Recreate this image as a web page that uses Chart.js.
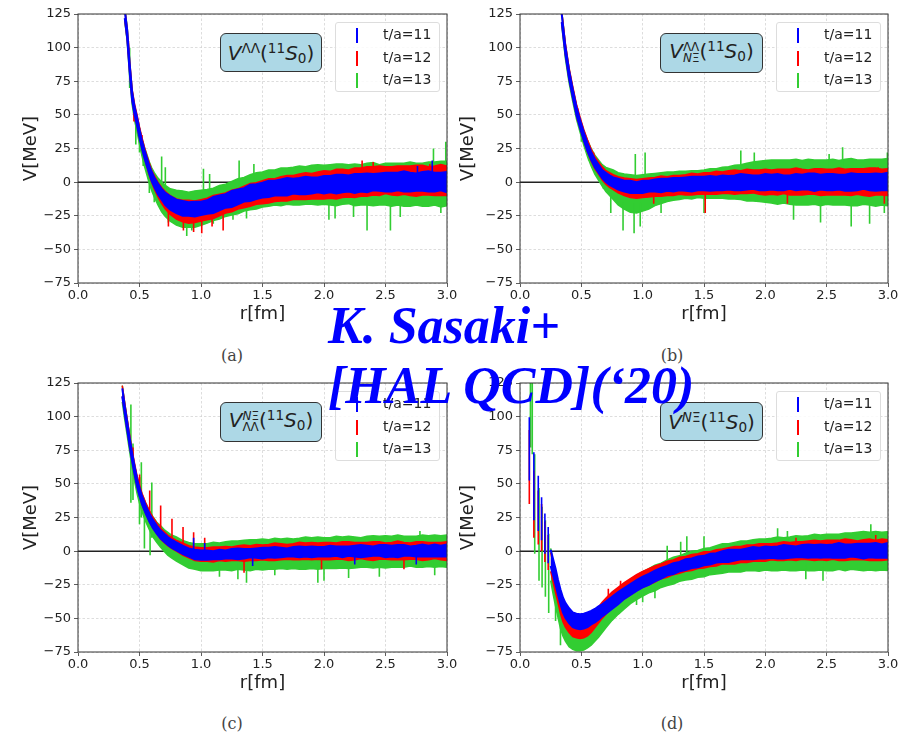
<!DOCTYPE html>
<html>
<head>
<meta charset="utf-8">
<script src="https://cdn.jsdelivr.net/npm/chart.js@4.4.1/dist/chart.umd.min.js"></script>
<style>
body { margin:0; background:#fff; width:908px; height:738px; position:relative; overflow:hidden; font-family:'DejaVu Sans', sans-serif; }
canvas { position:absolute; }
.lbl { position:absolute; box-sizing:border-box; background:#add8e6; border:1.5px solid #333; border-radius:6px; font-size:20px; color:#222; display:flex; align-items:center; justify-content:center; white-space:nowrap; }
.lbl > span { display:inline-block; line-height:1; }
.lbl sup, .lbl sub { font-size:0.68em; line-height:0; }
.lbl sup { vertical-align:0.55em; }
.lbl sub { vertical-align:-0.2em; }
.ss { display:inline-flex; flex-direction:column; font-size:0.6em; line-height:0.95; vertical-align:0.6em; }
.leg { position:absolute; box-sizing:border-box; width:105px; height:70px; border:1px solid #ddd; border-radius:3px; background:rgba(255,255,255,0.85); }
.leg div { position:absolute; left:0; height:22px; width:100%; font-size:14px; color:#222; }
.leg b { position:absolute; left:20px; top:4px; width:1.6px; height:15px; }
.leg span { position:absolute; left:47px; top:2px; }
.cap { position:absolute; font-family:'DejaVu Serif', serif; font-size:16px; color:#444; transform:translateX(-50%); }
.big { position:absolute; left:328px; top:296px; font-family:'Liberation Serif', serif; font-weight:bold; font-style:italic; font-size:52px; line-height:60px; color:#0000ff; white-space:nowrap; z-index:10; }
</style>
</head>
<body>
<canvas id="cA" width="470" height="340" style="left:0;top:0"></canvas>
<canvas id="cB" width="466" height="340" style="left:442px;top:0"></canvas>
<canvas id="cC" width="470" height="340" style="left:0;top:369px"></canvas>
<canvas id="cD" width="466" height="340" style="left:442px;top:369px"></canvas>

<div class="lbl" style="left:220px;top:33px;width:102px;height:39px"><span><i>V</i><sup>ΛΛ</sup>(<sup>11</sup><i>S</i><sub>0</sub>)</span></div>
<div class="lbl" style="left:660px;top:33px;width:103px;height:40px"><span><i>V</i><span class="ss"><span>ΛΛ</span><span><i>N</i>Ξ</span></span>(<sup>11</sup><i>S</i><sub>0</sub>)</span></div>
<div class="lbl" style="left:220px;top:402px;width:102px;height:40px"><span><i>V</i><span class="ss"><span><i>N</i>Ξ</span><span>ΛΛ</span></span>(<sup>11</sup><i>S</i><sub>0</sub>)</span></div>
<div class="lbl" style="left:660px;top:402px;width:103px;height:39px"><span><i>V</i><sup><i>N</i>Ξ</sup>(<sup>11</sup><i>S</i><sub>0</sub>)</span></div>

<div class="leg" style="left:335px;top:22px"></div>
<div class="leg" style="left:776px;top:22px"></div>
<div class="leg" style="left:335px;top:391px"></div>
<div class="leg" style="left:776px;top:391px"></div>

<div class="cap" style="left:232px;top:346px">(a)</div>
<div class="cap" style="left:672px;top:346px">(b)</div>
<div class="cap" style="left:232px;top:714px">(c)</div>
<div class="cap" style="left:672px;top:714px">(d)</div>

<div class="big">K. Sasaki+<br>[HAL QCD](‘20)</div>

<script>
const BLUE = '#0000ff'
const RED = '#ff0000'
const GREEN = '#32cd32'

const seriesNames = ['t/a=11', 't/a=12', 't/a=13']
const xTicks = [0, 0.5, 1.0, 1.5, 2.0, 2.5, 3.0]
const yTicks = [-75, -50, -25, 0, 25, 50, 75, 100, 125]

// r values shared by all panels beyond 1 fm
const rTail = [1.05,1.10,1.15,1.20,1.25,1.30,1.35,1.40,1.45,1.50,1.55,1.60,1.65,1.70,1.75,1.80,1.85,1.90,1.95,2.00,
    2.05,2.10,2.15,2.20,2.25,2.30,2.35,2.40,2.45,2.50,2.55,2.60,2.65,2.70,2.75,2.80,2.85,2.90,2.95,3.00]

// (a) V^{ΛΛ}
const rA = [0.38,0.40,0.42,0.44,0.46,0.48,0.50,0.52,0.54,0.56,0.58,0.60,0.62,0.65,0.68,0.71,0.75,0.80,0.85,0.90,0.95,1.00, ...rTail]
const aBlueV = [125,110,85,64,53,45,36,28,21,15,9,4,0, -5,-9,-12.5, -15.5,-18,-19.5,-20,-20,-19.5,
    -18.5,-17,-15.5,-14,-12.5,-11,-9.5,-8,-7,-6, -5,-4.5,-4,-3.5,-3,-3,-2.5,-2.5,-2,-2,
    -1.5,-1.5,-1,-1,-1,-0.5,-0.5,0,0,0, 0,0.5,0.5,0,0,0.5,0.5,0,0.5,0]
const aBlueE = [3,3,3,3,3,3,3,3,3,3,3,3.5,3.5, 4,4,4.5, 5,5,5.5,5,5.5,5,
    5,6,5.5,5,6,5.5,5,6,5.5,5.5, 6,5.5,6,6.5,5.5,6,6.5,6,5.5,6.5,
    6,7,6.5,6,7,6.5,7,6,6.5,7, 7,6.5,7.5,7,6.5,7,7.5,7,6.5,7.5]
const aRedV = [125,110,86,65,54,46,37,29,22,15.5,9.5,4,0, -5.5,-10,-13.5, -17,-20,-21.5,-22,-22,-21,
    -20,-18.5,-17,-15.5,-14,-12.5,-11,-9.5,-8.5,-7.5, -6.5,-6,-5,-4.5,-4,-3.5,-3,-3,-2.5,-2,
    -2,-1.5,-1,-1,-0.5,0,0.5,1,1,1.5, 1,1,1.5,1,1,1.5,1,1,1.5,1]
const aRedE = [4,4,4,4,4,4,4,4,4,4,4.5,4.5,5, 5.5,6,6.5, 7,7.5,8,8.5,8,8,
    8,8.5,8,7.5,8,7.5,8,8.5,8,8.5, 9,8.5,9,9.5,9,9.5,10,9.5,10,10.5,
    10,11,10.5,10,11,10.5,11,10.5,11,10, 10.5,11,10.5,11,11.5,11,10.5,11,11.5,11]
const aGreenV = [125,110,84,63,51,43,34,26,19,13,7,2,-2, -7,-11,-14, -17,-19,-20,-20.5,-20,-19,
    -18,-16.5,-15,-13.5,-12,-10.5,-9,-7.5,-6.5,-5.5, -4.5,-4,-3.5,-3,-3,-2.5,-2.5,-2,-2,-2,
    -2,-2,-1.5,-1.5,-2,-2,-1.5,-1.5,-2,-1.5, -2,-1.5,-2,-1.5,-1.5,-2,-1.5,-1,-1.5,-1]
const aGreenE = [5,5,5,5,5,5.5,6,6.5,7,7.5,8,8.5,9, 10,11,11.5, 12,13,13.5,13,13.5,13,
    12.5,12,12.5,12,12.5,13,12.5,13,13.5,13, 13.5,13,14,13.5,14,14.5,14,14.5,15,14.5,
    15,15.5,15,14.5,15.5,15,15.5,16,15,15.5, 16,15.5,16,16.5,15.5,16,16.5,16,17,16.5]
// single large error bars: [r, low, high]
const aSpikesGreen = [[0.42,70,100],[0.47,28,52],[0.50,22,40],[0.53,12,30],[0.58,-8,14],[0.62,-15,6],
    [0.68,-5,19],[0.71,-8,11],[0.735,-30,-10],[0.884,-40,-20],[0.925,-36,-20],[1.02,-10,10],
    [1.07,-10,6],[1.10,-31,-15],[1.26,-28,-10],[1.31,-8,16],[1.37,-27,-8],[1.43,-5,13.5],[2.04,-28,-5],
    [2.09,-27,-5],[2.24,-26,-5],[2.35,-36,-5],[2.54,-36,-5],[2.62,-26,-5],[2.89,5,25],[2.95,-23,-5],[2.99,5,30]]
const aSpikesRed = [[0.41,95,105],[0.455,45,56],[0.52,25,35],[0.735,-33,-15],[0.857,-36,-18],[0.94,-37,-18],
    [1.006,-38,-18],[1.09,-33,-15],[1.18,-36,-15],[2.31,5,16],[2.40,5,15],[2.86,5,13.5]]
const aSpikesBlue = [[2.76,4,12],[2.88,5,16]]

// (b) V^{ΛΛ}_{NΞ}
const rB = [0.34,0.37,0.40,0.43,0.46,0.49,0.52,0.55,0.58,0.61,0.64,0.67,0.70,0.73,0.76,0.80,0.85,0.90,0.95,1.00, ...rTail]
const bBlueV = [122,98,80,66,53,43,34,26,19.5,14,10,6,3.5,1.5,0, -1.5,-3,-3.5,-4,-3.5,
    -3,-2.5,-2.5,-2,-2,-1.5,-1.5,-1.5,-1,-1, -1,-1,-0.5,-0.5,-0.5,0,0,0,-0.5,0,
    0,0,-0.5,0,0,0,0.5,0,0,0, 0,0,-0.5,0,0,0.5,0,0,0,0.5]
const bBlueE = [3,3,3,3,3,3,3,3,3,3,3,3,3.5,3.5,3.5, 4,4,4.5,4,4.5,
    4,4.5,5,4.5,5,4.5,5,5.5,5,5, 5.5,5,5.5,5,5.5,6,5.5,5,5.5,6,
    5.5,6,5.5,5,6,5.5,6,6.5,5.5,6, 6,5.5,6,6.5,6,5.5,6,6.5,6,6.5]
const bRedV = [123,99,81,67,54,44,35,27,20,14.5,10.5,6.5,3.5,1.5,0, -2,-3.5,-4.5,-5,-4.5,
    -4,-3.5,-3,-3,-2.5,-2,-2,-1.5,-1.5,-1, -1,-0.5,-0.5,0,0,0,0.5,0.5,0,0,
    0,0,0.5,0,0.5,0,0,0.5,0,0, 0,0.5,0,0,0.5,0,0,0.5,0,0]
const bRedE = [4,4,4,4,4,4,4,4.5,4.5,4.5,4.5,5,5,5.5,5.5, 6,6.5,7,7,7,
    7,7,7.5,7,7.5,7,7.5,8,7.5,8, 8,8.5,8,8.5,9,8.5,9,8.5,9,9.5,
    9,9.5,9,9.5,10,9.5,9,9.5,10,9.5, 9.5,10,9.5,10,9.5,10,10.5,10,9.5,10]
const bGreenV = [122,97,79,65,52,42,33,25,18.5,13,9,5,2,0,-2, -5,-7,-8.5,-9,-8,
    -7,-5.5,-4.5,-3.5,-3,-2.5,-2,-2,-1.5,-1.5, -1,-1,-0.5,-0.5,0,0,0,0.5,0.5,0.5,
    0.5,0,0.5,0,0,-0.5,0,0,-0.5,0, 0,-0.5,0,0,-0.5,0,0,-0.5,0,0]
const bGreenE = [5,5,5,5,5,5,5.5,6,6.5,7,7.5,8,9,10,11, 12,13,14,14,13.5,
    13,12,11.5,11,10.5,10.5,10,10.5,10,10.5, 11,11,11.5,12,12.5,13,14,14.5,15,15.5,
    16,16.5,16,16.5,17,16.5,17,16.5,17,16.5, 17,16.5,17,17.5,17,16.5,17,17.5,17,17.5]
const bSpikesGreen = [[0.50,30,42],[0.56,16,28],[0.62,5,18],[0.68,-5,10],[0.74,-23,-5],[0.84,-36,-15],[0.93,-38,-15],
    [0.94,-5,21],[0.98,-33,-15],[1.02,-5,22],[1.15,-23,-8],[1.50,-23,-8],[1.80,5,23.5],[1.91,5,22],[2.23,-28,-10],
    [2.45,-30,-10],[2.52,5,21],[2.63,5,26],[2.70,-33,-10],[2.85,-31,-10],[2.97,-23,-10],[2.995,5,22]]
const bSpikesRed = [[0.47,45,55],[0.60,14,22],[1.09,-16,-5],[1.51,-23,-5],[2.18,-16,-5],[2.92,5,11],[2.97,-16,-5]]
const bSpikesBlue = []

// (c) V^{NΞ}_{ΛΛ}
const rC = [0.36,0.38,0.40,0.42,0.44,0.46,0.48,0.50,0.52,0.55,0.58,0.61,0.64,0.67,0.70,0.73,0.76,0.80,0.85,0.90,0.95,1.00, ...rTail]
const cBlueV = [118,105,93,81,70,60,51,44,38,31,25,20,16,12.5,10,7.5,5.5,3.5,1,-1,-2.5,-3,
    -3,-3,-2.5,-2.5,-2,-2,-2,-1.5,-1.5,-1.5, -1,-1,-1,-1,-0.5,-0.5,-0.5,-0.5,-0.5,-0.5,
    0,0,-0.5,0,0,0,0,0,0.5,0, 0,0,0.5,0,0,0.5,0,0.5,0,0.5]
const cBlueE = [3,3,3,3,3,3,3,3,3,3,3,3,3,3,3,3,3,3,3,3,3.5,3.5,
    3.5,3,3.5,3,3.5,4,3.5,3,3.5,4, 3.5,4,3.5,3,3.5,4,3.5,4,3.5,3.5,
    4,3.5,4,3.5,4,4.5,4,3.5,4,4.5, 4,4.5,4,3.5,4,4.5,4,4.5,4,4.5]
const cRedV = [119,106,94,82,71,61,52,45,39,32,26,21,17,13,10.5,8,6,4,1.5,-0.5,-2,-2.5,
    -2.5,-2.5,-2,-2,-2,-1.5,-1.5,-1.5,-1,-1, -1,-0.5,-0.5,-0.5,-0.5,0,0,0,0,0,
    0,0,0.5,0,0,0.5,0,0,0.5,0, 0,0.5,0,0,0.5,0,0,0.5,0,0]
const cRedE = [4,4,4,4,4,4,4,4,4,4,4,4,4,4,4,4,4,4,4.5,4.5,5,5,
    5,5.5,5,5.5,5,5.5,6,5.5,6,5.5, 6,6.5,6,5.5,6,6.5,6,6.5,6,6.5,
    6.5,6,6.5,7,6.5,6,6.5,7,6.5,6, 6.5,7,6.5,6,6.5,7,6.5,6,6.5,7]
const cGreenV = [117,104,92,80,68,58,49,42,36,29,23,18,14,11,8,5.5,3.5,1.5,-1,-3,-4,-4.5,
    -4.5,-4,-4,-3.5,-3.5,-3,-3,-3,-2.5,-2.5, -2.5,-2,-2,-2,-2,-2,-1.5,-1.5,-1.5,-1.5,
    -1.5,-1,-1,-1,-1,-1,-0.5,-0.5,-0.5,-0.5, -0.5,0,-0.5,0,-0.5,0,0,0,0,0]
const cGreenE = [6,6,6,6,6,6,6,6.5,6.5,7,7,7.5,7.5,8,8,8.5,8.5,9,9,9.5,9.5,10,
    10,10.5,10,10.5,11,10.5,11,11.5,11,11.5, 11,11.5,11,11.5,11,11.5,12,11.5,12,11.5,
    11.5,12,11.5,12,11.5,11,11.5,12,11.5,12, 11.5,12,11.5,11,11.5,12,11.5,12,11.5,12]
const cSpikesGreen = [[0.43,36,109],[0.447,38,80],[0.50,20,55],[0.515,25,66],[0.54,2,30],[0.586,-3,20],[0.60,10,51],
    [1.15,-19,-5],[1.30,-21,-5],[1.37,-23.5,-5],[1.60,-18,-5],[1.95,-23.5,-5],[2.00,-22,-5],[2.20,-20,-5],
    [2.45,-19,-5],[2.78,5,15],[2.90,-18,-5]]
const cSpikesRed = [[0.447,65,77],[0.501,42,57],[0.583,27,45],[0.672,16,34],[0.764,7,24],[0.854,2,18],[0.94,-1,14],
    [1.03,-2,10],[1.35,-16,-4],[1.98,-13.5,-4],[2.65,-13.5,-4]]
const cSpikesBlue = [[0.94,-1,10],[1.03,-3,6],[1.42,-11,-2],[2.25,-10,-2],[2.75,-10,-2]]

// (d) V^{NΞ}
const rD = [0.25,0.27,0.29,0.31,0.33,0.35,0.37,0.40,0.43,0.46,0.49,0.52,0.55,0.58,0.61,0.64,0.67,0.70,0.75,0.80,0.85,0.90,0.95,1.00, ...rTail]
const dBlueV = [-5,-12,-19,-27,-34,-40,-44,-48,-51,-52,-52.5,-52,-51,-49.5,-48,-46,-44,-42,-38.5,-35,-31.5,-28.5,-25.5,-23,
    -21,-18.5,-16.5,-14.5,-13,-11.5,-10,-9,-8,-7, -6,-5,-4,-3.5,-3,-2.5,-2,-1.5,-1.5,-1,
    -1,-1,-0.5,-0.5,-0.5,0,0,0,0,0, 0,0.5,0,0.5,0.5,0,0.5,0.5,0,0.5]
const dBlueE = [6,6,6,5.5,5.5,5.5,5.5,5.5,5.5,5.5,5.5,5.5,5.5,5,5,5,4.5,4.5,4.5,4.5,4,4,4,4,
    4,4,4,3.5,4,3.5,4,3.5,4,3.5, 4,3.5,4,4.5,4,3.5,4,4.5,4,4.5,
    4,4.5,5,4.5,4,4.5,5,4.5,5,4.5, 5,5.5,5,4.5,5,5.5,5,5.5,5,5.5]
const dRedV = [-8,-16,-24,-32,-40,-46,-50,-54,-57,-58,-58.5,-58,-56.5,-54,-51,-47.5,-44,-41,-36.5,-33,-29.5,-26.5,-23.5,-21,
    -19,-17,-15,-13.5,-12,-10.5,-9.5,-8.5,-7.5,-6.5, -6,-5,-4,-3.5,-3,-2.5,-2,-1.5,-1,-1,
    -0.5,-0.5,0,0,0,0.5,0.5,0.5,0.5,0.5, 1,0.5,1,1,0.5,1,1,0.5,1,1]
const dRedE = [7,7,7,6.5,6.5,6.5,6.5,6.5,6.5,6.5,6.5,6.5,6.5,6.5,6,6,6,6,6,6,6,6,6,6,
    6,6,5.5,6,5.5,6,5.5,6,5.5,6, 5.5,6,5.5,6,6.5,6,6.5,6,6.5,6.5,
    6,6.5,7,6.5,7,6.5,7,7.5,7,7.5, 7,7.5,8,7.5,7,7.5,8,7.5,8,7.5]
const dGreenV = [-10,-20,-29,-38,-46,-52,-56,-60,-62,-63,-63.5,-63,-62,-60,-57,-54,-50.5,-47,-42,-37.5,-33.5,-30,-27,-24.5,
    -22,-20,-18,-16,-14.5,-13,-11.5,-10.5,-9.5,-8.5, -7.5,-6.5,-5.5,-5,-4.5,-4,-3.5,-3,-3,-2.5,
    -2.5,-2,-2,-2,-1.5,-1.5,-1.5,-1,-1,-1, -1,-0.5,-0.5,0,0,0,0,0,0,0]
const dGreenE = [12,12,12,11.5,11.5,11,11,11,11,11,10.5,10.5,10,10,10,10,10,10,9.5,9.5,9.5,9,9,9,
    9,9.5,9,9.5,10,9.5,10,10.5,10,10.5, 10,10.5,11,10.5,11,11.5,11,11.5,12,11.5,
    12,12.5,12,12.5,13,12.5,13,13.5,13,13.5, 13.5,13,14,13.5,14,14.5,14,14.5,14,14.5]
const dSpikesGreen = [[0.085,77,130],[0.10,72,130],[0.12,-2,72],[0.155,-22,47],[0.18,-27,33],[0.207,-34,23],
    [0.234,-46,13],[0.29,-52,-20],[0.33,-70,-35],[0.95,-40,-25],[1.00,-38,-22],[1.10,-35,-20],[1.20,-15,4],
    [1.31,-12,7],[1.36,-10,11],[1.50,-10,11],[2.10,-5,17],[2.18,-5,15],[2.33,-21,-5],[2.47,-22,-5],[2.86,-5,20]]
const dSpikesRed = [[0.076,35,90],[0.113,10,60],[0.149,5,45],[0.176,0,35],[0.203,-8,22],[0.23,-14,12],
    [0.72,-36,-28],[0.82,-30,-22],[2.25,3,10],[2.90,4,12]]
const dSpikesBlue = [[0.076,52.5,99.5],[0.113,23,73.5],[0.149,15,56],[0.176,8,40],[0.203,-2,28],[0.23,-9,18]]


function band(r, v, e, color, order, width) {
    const common = { type: 'line', borderColor: color, backgroundColor: color, borderWidth: width, pointRadius: 0, tension: 0, order: order }
    const lo = { ...common, data: r.map((x, i) => ({ x: x, y: v[i] - e[i] })), fill: false }
    const hi = { ...common, data: r.map((x, i) => ({ x: x, y: v[i] + e[i] })), fill: '-1' }
    return [lo, hi]
}

function spikes(list, color, order) {
    const pts = []
    list.forEach((s) => {
        pts.push({ x: s[0], y: s[1] }, { x: s[0], y: s[2] }, { x: s[0], y: null })
    })
    return { type: 'line', data: pts, borderColor: color, borderWidth: 1.6, pointRadius: 0, fill: false, order: order }
}

const framePlugin = {
    id: 'frame',
    afterDatasetsDraw(chart) {
        const { ctx, chartArea } = chart
        ctx.save()
        ctx.strokeStyle = '#333'
        ctx.lineWidth = 1
        ctx.strokeRect(chartArea.left, chartArea.top, chartArea.right - chartArea.left, chartArea.bottom - chartArea.top)
        ctx.restore()
    }
}

Chart.defaults.font.family = "'DejaVu Sans', sans-serif"
Chart.defaults.color = '#222'

function makePanel(id, r, green, red, blue, sGreen, sRed, sBlue, padRight, titlePad) {
    const zero = { type: 'line', data: [{ x: 0, y: 0 }, { x: 3, y: 0 }], borderColor: '#222', borderWidth: 1.5, pointRadius: 0, fill: false, order: 10 }
    const datasets = [
        zero,
        ...band(r, green[0], green[1], GREEN, 6, 1.5),
        spikes(sGreen, GREEN, 5),
        ...band(r, red[0], red[1], RED, 4, 1.5),
        spikes(sRed, RED, 3),
        ...band(r, blue[0], blue[1], BLUE, 2, 2),
        spikes(sBlue, BLUE, 1)
    ]
    const gridOpts = { color: '#d4d4d4', lineWidth: 0.8, tickColor: '#333', tickLength: 4, tickBorderDash: [], offset: false }
    new Chart(document.getElementById(id), {
        type: 'line',
        data: { datasets: datasets },
        options: {
            responsive: false,
            animation: false,
            layout: { padding: { top: 14, right: padRight, left: 0, bottom: 0 } },
            plugins: { legend: { display: false }, tooltip: { enabled: false } },
            scales: {
                x: {
                    type: 'linear', min: 0, max: 3, offset: false,
                    afterFit: (s) => { s.height = 57 },
                    afterBuildTicks: (s) => { s.ticks = xTicks.map((v) => ({ value: v })) },
                    ticks: { callback: (v) => v.toFixed(1), font: { size: 13 }, padding: 1, maxRotation: 0, autoSkip: false },
                    grid: gridOpts,
                    border: { display: false, dash: [2.5, 2] },
                    title: { display: true, text: 'r[fm]', font: { size: 18 }, padding: { top: 0, bottom: 15 } }
                },
                y: {
                    type: 'linear', min: -75, max: 125,
                    afterFit: (s) => { s.width = 78 },
                    afterBuildTicks: (s) => { s.ticks = yTicks.map((v) => ({ value: v })) },
                    ticks: { callback: (v) => v < 0 ? '\u2212' + Math.abs(v) : String(v), font: { size: 13 }, padding: 3, autoSkip: false },
                    grid: gridOpts,
                    border: { display: false, dash: [2.5, 2] },
                    title: { display: true, text: 'V[MeV]', font: { size: 18 }, padding: { top: titlePad, bottom: 0 } }
                }
            }
        },
        plugins: [framePlugin]
    })
}

makePanel('cA', rA, [aGreenV, aGreenE], [aRedV, aRedE], [aBlueV, aBlueE], aSpikesGreen, aSpikesRed, aSpikesBlue, 23, 21)
makePanel('cB', rB, [bGreenV, bGreenE], [bRedV, bRedE], [bBlueV, bBlueE], bSpikesGreen, bSpikesRed, bSpikesBlue, 20, 16)
makePanel('cC', rC, [cGreenV, cGreenE], [cRedV, cRedE], [cBlueV, cBlueE], cSpikesGreen, cSpikesRed, cSpikesBlue, 23, 21)
makePanel('cD', rD, [dGreenV, dGreenE], [dRedV, dRedE], [dBlueV, dBlueE], dSpikesGreen, dSpikesRed, dSpikesBlue, 20, 16)

// legends
const legendColors = [BLUE, RED, GREEN]
document.querySelectorAll('.leg').forEach((box) => {
    seriesNames.forEach((name, i) => {
        const row = document.createElement('div')
        row.style.top = (1 + i * 22.5) + 'px'
        row.innerHTML = '<b style="background:' + legendColors[i] + '"></b><span>' + name + '</span>'
        box.appendChild(row)
    })
})
</script>
</body>
</html>
